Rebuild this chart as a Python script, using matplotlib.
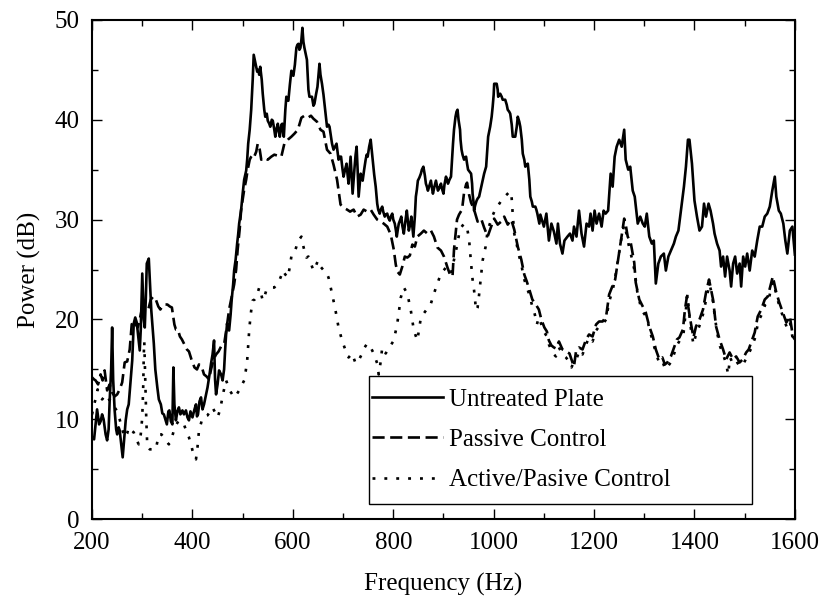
import numpy as np
import matplotlib
matplotlib.use('Agg')
import matplotlib.pyplot as plt
from matplotlib.patches import Rectangle

plt.rcParams['font.family'] = ['Liberation Serif', 'DejaVu Serif']
plt.rcParams['font.size'] = 18

# Untreated plate (solid)
freq_untreated = [
    200, 204, 207, 210, 214, 217, 220, 223, 227, 230, 233, 235, 238, 240, 242, 245, 248, 250, 253, 255,
    258, 261, 264, 267, 270, 273, 277, 280, 283, 286, 289, 292, 295, 297, 300, 303, 305, 307, 309, 313,
    316, 318, 321, 323, 326, 330, 333, 337, 340, 343, 346, 349, 352, 354, 357, 360, 362, 364, 367, 370,
    373, 376, 380, 383, 387, 390, 393, 396, 400, 404, 407, 409, 411, 414, 417, 420, 423, 427, 430, 434,
    437, 440, 443, 445, 447, 450, 453, 457, 460, 463, 465, 467, 469, 471, 473, 476, 478, 481, 483, 486,
    489, 491, 493, 497, 500, 503, 507, 509, 511, 514, 517, 520, 522, 524, 527, 529, 531, 533, 535, 538,
    540, 543, 545, 548, 550, 553, 555, 558, 560, 563, 565, 567, 570, 572, 574, 577, 579, 581, 582, 585,
    587, 589, 591, 594, 597, 599, 601, 604, 607, 609, 611, 613, 615, 617, 619, 621, 623, 626, 628, 631,
    633, 636, 638, 641, 643, 646, 649, 651, 653, 655, 658, 661, 663, 666, 668, 671, 673, 676, 678, 681,
    684, 687, 689, 691, 694, 696, 699, 701, 704, 707, 709, 711, 713, 715, 717, 719, 721, 723, 725, 727,
    729, 731, 733, 735, 737, 739, 742, 745, 747, 749, 752, 755, 757, 760, 762, 765, 768, 770, 773, 775,
    778, 780, 783, 785, 788, 790, 793, 795, 798, 800, 803, 805, 807, 809, 811, 814, 816, 818, 821, 824,
    827, 829, 831, 834, 836, 838, 840, 843, 845, 847, 849, 852, 855, 857, 860, 863, 865, 867, 869, 872,
    875, 877, 879, 882, 885, 887, 889, 892, 895, 897, 900, 902, 905, 907, 909, 912, 915, 917, 919, 921,
    924, 926, 928, 930, 933, 934, 936, 938, 941, 943, 945, 947, 949, 952, 955, 957, 958, 960, 961, 963,
    966, 968, 971, 974, 978, 981, 985, 987, 989, 991, 993, 996, 998, 1000, 1001, 1004, 1006, 1008, 1009, 1011,
    1013, 1016, 1018, 1021, 1023, 1026, 1028, 1031, 1033, 1036, 1038, 1041, 1043, 1046, 1048, 1051, 1053, 1056, 1058, 1061,
    1063, 1066, 1068, 1071, 1073, 1076, 1078, 1081, 1083, 1085, 1087, 1089, 1091, 1093, 1100, 1105, 1110, 1115, 1120, 1125,
    1128, 1132, 1137, 1141, 1147, 1152, 1157, 1160, 1165, 1170, 1175, 1180, 1185, 1190, 1193, 1197, 1201, 1205, 1210, 1215,
    1219, 1223, 1228, 1233, 1237, 1241, 1245, 1250, 1255, 1260, 1263, 1268, 1272, 1277, 1281, 1287, 1292, 1297, 1301, 1305,
    1310, 1315, 1319, 1323, 1328, 1333, 1339, 1343, 1348, 1353, 1359, 1363, 1368, 1373, 1379, 1383, 1387, 1390, 1395, 1400,
    1405, 1410, 1415, 1419, 1423, 1428, 1432, 1437, 1440, 1445, 1450, 1453, 1457, 1461, 1465, 1470, 1473, 1477, 1481, 1485,
    1490, 1493, 1497, 1501, 1505, 1510, 1515, 1520, 1525, 1530, 1535, 1540, 1545, 1550, 1555, 1560, 1563, 1568, 1572, 1577,
    1581, 1585, 1590, 1595, 1600,
]
power_untreated = [
    8.2, 8.0, 9.5, 11.0, 9.5, 9.8, 10.5, 10.0, 8.5, 7.9, 9.0, 11.8, 15, 19.2, 14, 10.9, 9.0, 8.5, 9.2, 8.9,
    7.5, 6.2, 8.0, 9.9, 11.0, 11.5, 14, 15.9, 19.6, 20.2, 19.7, 18.3, 16.9, 19, 24.6, 20, 19.2, 22, 25.6, 26.1,
    23, 20.9, 19, 17.6, 15, 13.2, 12, 11.5, 10.6, 10.5, 10, 9.5, 10.8, 10.9, 9.8, 9.5, 15.2, 11.5, 9.9, 10.8,
    11.2, 10.5, 10.9, 10.5, 10.9, 10.2, 9.9, 10.8, 10.2, 11, 11.5, 10.3, 10.5, 11.8, 12.2, 11, 11.5, 12.5, 13.2, 14.5,
    15.6, 16.5, 17.9, 14, 12.5, 13.5, 14.9, 14.5, 13.9, 15, 16.9, 18.5, 19.6, 19, 18.9, 20.5, 21.9, 23.5, 24.9, 26,
    27.6, 28.5, 29.6, 31, 32.6, 34, 34.9, 36, 37.6, 39, 41, 44, 46.5, 46, 45.3, 44.8, 45, 44.5, 45.3, 44,
    42.6, 41, 40.3, 40.6, 39.9, 39.6, 39.3, 40, 39.9, 39, 38.3, 39, 39.6, 38.8, 38.3, 39.5, 39.6, 38.5, 38.3, 41,
    42.3, 42, 41.9, 43.5, 44.9, 44.5, 44.4, 45.5, 47.2, 47.5, 47.6, 47, 47.2, 48, 49.2, 47.8, 47.2, 46.5, 46, 43,
    42.3, 42.3, 42.3, 41.4, 41.6, 42.5, 43.3, 44.5, 45.6, 44.5, 43.6, 42.5, 41.6, 40.3, 39.3, 39.5, 39.3, 38.3, 37.6, 37,
    37.3, 37.6, 36.8, 36, 36.3, 36.3, 35, 34.3, 35, 35.6, 34.5, 33.6, 35, 36.3, 34.5, 32.6, 34, 35.3, 36.5, 37.3,
    35, 32.3, 33.5, 34.6, 34.2, 33.9, 35, 36, 36.5, 36.3, 37.3, 38, 37, 35.6, 34.5, 33.3, 31.6, 31, 30.6, 31,
    31.3, 30.8, 30.3, 30.5, 30.6, 30.2, 29.9, 30.3, 30.6, 30, 29.6, 29, 28.3, 29, 29.6, 30, 30.3, 29.4, 28.6, 29.8,
    30.9, 29.9, 28.9, 29.6, 30.3, 29.3, 28.3, 30.3, 32.3, 33, 33.9, 34.2, 34.6, 35, 35.3, 34.4, 33.6, 33.3, 32.9, 33.4,
    33.9, 33.2, 32.6, 33.3, 33.9, 33.4, 32.9, 33.2, 33.6, 33.1, 32.6, 33.5, 34.3, 34, 33.6, 34, 34.3, 36, 37.6, 39,
    40.3, 40.8, 41, 40, 39, 38, 37, 36.5, 36, 36.2, 36.3, 35.6, 35, 34.8, 34.6, 33.6, 32.6, 31.7, 30.9, 31.4,
    31.9, 32.1, 32.3, 33, 33.9, 34.6, 35.3, 36.8, 38.3, 38.8, 39.3, 40.3, 41.3, 42.5, 43.6, 43.6, 43.6, 43, 42.3, 42.5,
    42.6, 42.3, 42, 42, 42, 41.5, 41, 40.8, 40.6, 39.5, 38.3, 38.3, 38.3, 39.3, 40.3, 39.8, 39.3, 38, 36.6, 36,
    35.3, 35.5, 35.6, 34, 32.3, 31.8, 31.3, 31.3, 31.3, 31, 30.6, 30.1, 29.6, 30.5, 29.3, 30.6, 27.9, 29.6, 28.8, 27.6,
    29.6, 27.6, 26.6, 27.9, 28.3, 28.6, 27.9, 29.3, 28.3, 30.9, 28.6, 27.3, 29.6, 29.3, 30.6, 28.9, 30.9, 29.6, 30.6, 29.3,
    30.9, 30.6, 30.9, 34.6, 33.3, 36.3, 37.3, 38, 37.3, 39, 36, 35, 35.3, 32.9, 32.3, 29.6, 30.3, 29.6, 29.3, 30.6,
    28.3, 27.6, 27.9, 23.6, 25.6, 26.3, 26.6, 24.9, 26.3, 26.9, 27.6, 28.3, 28.9, 30.9, 33.3, 35.3, 38, 38, 35.6, 31.9,
    30.3, 28.9, 29.3, 31.6, 30.3, 31.6, 30.9, 29.6, 28.6, 27.6, 26.9, 25.3, 26.3, 24.3, 26.3, 24.9, 23.3, 25.6, 26.3, 24.6,
    25.6, 23.3, 26.3, 25.3, 26.6, 24.9, 26.9, 26.3, 27.9, 29.3, 29.3, 30.3, 30.6, 31.3, 32.9, 34.3, 32.3, 30.9, 30.6, 29.6,
    27.9, 26.6, 28.9, 29.3, 26.5,
]

# Passive control (dashed)
freq_passive = [
    200, 204, 207, 212, 217, 221, 225, 230, 235, 240, 245, 250, 255, 260, 265, 270, 275, 279, 283, 287,
    291, 295, 299, 303, 307, 312, 317, 322, 327, 332, 336, 340, 345, 350, 355, 359, 364, 367, 371, 375,
    379, 384, 389, 393, 398, 404, 409, 413, 417, 420, 423, 428, 433, 437, 442, 447, 452, 457, 463, 469,
    473, 477, 483, 487, 490, 494, 497, 500, 503, 507, 510, 514, 517, 520, 523, 527, 530, 534, 537, 543,
    550, 557, 563, 570, 577, 583, 590, 597, 603, 610, 617, 623, 630, 636, 641, 648, 655, 661, 668, 675,
    681, 688, 695, 701, 708, 714, 721, 728, 735, 741, 748, 755, 761, 768, 775, 781, 788, 795, 801, 805,
    808, 813, 818, 823, 828, 833, 838, 843, 848, 855, 861, 868, 875, 881, 888, 895, 901, 908, 913, 918,
    921, 927, 931, 937, 941, 945, 947, 951, 955, 961, 968, 975, 981, 988, 995, 1001, 1008, 1015, 1021, 1028,
    1035, 1041, 1048, 1055, 1061, 1066, 1071, 1077, 1084, 1090, 1095, 1101, 1106, 1110, 1115, 1120, 1124, 1130, 1137, 1144,
    1151, 1157, 1160, 1164, 1170, 1177, 1184, 1190, 1197, 1204, 1210, 1217, 1224, 1230, 1237, 1242, 1247, 1253, 1260, 1263,
    1267, 1273, 1280, 1283, 1290, 1297, 1303, 1310, 1317, 1323, 1330, 1336, 1341, 1346, 1353, 1360, 1365, 1370, 1377, 1381,
    1385, 1387, 1390, 1394, 1398, 1403, 1410, 1417, 1423, 1429, 1433, 1437, 1443, 1450, 1457, 1463, 1470, 1477, 1483, 1490,
    1496, 1503, 1508, 1513, 1520, 1526, 1533, 1540, 1546, 1553, 1556, 1563, 1569, 1576, 1583, 1590, 1596, 1600,
]
power_passive = [
    14.2, 14.0, 13.9, 13.5, 14.5, 13.9, 14.9, 12.9, 13.5, 12.7, 12.3, 12.5, 13, 13.7, 15.7, 15.8, 17, 19.5, 20, 19.5,
    19.2, 20, 21, 20.8, 21, 21, 22, 22.3, 22, 21.3, 21, 21.3, 21.5, 21.5, 21.3, 21.2, 19.5, 19, 19, 18.3,
    18, 17.5, 17, 16.8, 16, 15.2, 15, 15.5, 15.3, 15, 14.5, 14.3, 14, 15, 16, 16.5, 16.8, 17.3, 17.5, 19.5,
    21, 22, 23.5, 25, 27, 29, 31, 32, 33, 34, 35, 36, 36.3, 36.5, 36.3, 36.8, 37.6, 37, 36, 36.2,
    36, 36.3, 36.5, 36.4, 36.3, 37.6, 38, 38.3, 38.6, 39, 40.2, 40.4, 40.2, 40.4, 40.1, 39.8, 39, 38.8, 37, 36.6,
    35.5, 34, 31.5, 31.2, 31, 30.8, 31, 30.3, 30.5, 31, 30.8, 31, 30.5, 30, 29.8, 29.6, 29.3, 28.5, 27, 25.5,
    24.8, 24.5, 25.3, 26.3, 26.2, 26.4, 27.5, 27.3, 28.3, 28.6, 28.9, 28.6, 28.9, 28.3, 27.2, 26.9, 26.3, 25.2, 24.5, 24.3,
    27, 30, 30.5, 31, 32.7, 33.5, 33.7, 32.5, 31.7, 31, 29.8, 30.1, 29.2, 28.3, 29.3, 30.1, 29.5, 29.8, 30.3, 29.5,
    30, 29, 27.3, 26, 24.5, 23.8, 23, 22, 21.5, 21, 20, 19.2, 18.8, 17.9, 17.4, 17.2, 17.1, 17.8, 17, 16.8,
    16.6, 15.7, 15.3, 16.8, 17.2, 17, 18, 18.5, 18.3, 19.5, 19.8, 19.8, 20.3, 22.5, 23.4, 24, 25.7, 27.7, 30.1, 29.5,
    28.3, 27.7, 25.7, 23.7, 22, 21.3, 20.7, 19.3, 18.3, 17, 16, 16.2, 15.5, 15.7, 16.3, 17.3, 18, 18.2, 19, 21,
    22.3, 21.5, 20.5, 19.3, 18.2, 19.3, 20, 21, 22.7, 24, 23, 22, 19.3, 18, 17, 16, 16.7, 16, 16.3, 15.7,
    16, 16.7, 17, 17.7, 18.7, 20.3, 21, 22, 22.3, 23.7, 24.3, 22.7, 21.7, 20.7, 19.7, 20.3, 18.3, 18,
]

# Active/passive control (dotted)
freq_active = [
    200, 204, 207, 211, 215, 220, 225, 230, 235, 240, 245, 250, 255, 260, 265, 270, 273, 278, 283, 288,
    293, 297, 300, 302, 303, 304, 306, 308, 310, 315, 320, 327, 333, 338, 343, 348, 353, 358, 363, 368,
    373, 378, 383, 388, 393, 397, 400, 404, 407, 410, 413, 417, 420, 425, 430, 435, 440, 445, 450, 454,
    457, 462, 467, 470, 473, 478, 483, 488, 493, 498, 503, 506, 509, 511, 513, 515, 517, 520, 524, 527,
    530, 533, 537, 540, 544, 547, 550, 553, 558, 563, 568, 573, 577, 580, 585, 590, 594, 597, 600, 603,
    607, 610, 614, 617, 620, 623, 627, 631, 636, 641, 646, 650, 655, 660, 665, 671, 678, 685, 691, 698,
    705, 711, 718, 725, 731, 738, 743, 748, 755, 761, 768, 771, 775, 778, 785, 791, 796, 801, 808, 815,
    821, 828, 835, 841, 848, 855, 865, 875, 885, 895, 905, 915, 925, 931, 935, 941, 948, 951, 955, 958,
    961, 965, 968, 971, 975, 978, 984, 988, 997, 1003, 1010, 1018, 1024, 1030, 1035, 1038, 1041, 1046, 1050, 1055,
    1061, 1066, 1071, 1077, 1082, 1086, 1090, 1095, 1101, 1106, 1110, 1115, 1120, 1124, 1130, 1137, 1144, 1150, 1155, 1160,
    1166, 1171, 1177, 1184, 1190, 1197, 1204, 1210, 1217, 1224, 1230, 1237, 1243, 1249, 1255, 1260, 1265, 1270, 1275, 1281,
    1286, 1292, 1298, 1305, 1311, 1318, 1324, 1331, 1337, 1342, 1347, 1354, 1361, 1366, 1372, 1378, 1382, 1386, 1389, 1393,
    1398, 1403, 1411, 1418, 1424, 1430, 1435, 1440, 1445, 1451, 1457, 1463, 1467, 1471, 1477, 1484, 1490, 1497, 1504, 1510,
    1514, 1521, 1527, 1534, 1541, 1547, 1553, 1557, 1564, 1570, 1577, 1584, 1590, 1596, 1600,
]
power_active = [
    10.5, 11.5, 12, 13, 12.5, 12, 12.3, 11.8, 12, 11.5, 11.2, 10.8, 10, 9, 8.2, 8.6, 9.2, 8.9, 8.7, 8,
    7.5, 8.5, 10.2, 13.5, 16.5, 17.8, 14, 10, 7.3, 7, 7, 7, 8.5, 8.5, 8.2, 7.8, 7.5, 8, 8.9, 9.5,
    9.9, 9.7, 9.5, 8.8, 8.2, 7.5, 6.9, 6.3, 6, 7.2, 8.9, 9.6, 10.2, 10.3, 10.4, 10.8, 11.2, 10.7, 10.2, 10.8,
    11.5, 12.8, 13.9, 13.5, 13, 12.6, 12.2, 12.5, 12.9, 13.4, 13.9, 14.8, 15.9, 17.4, 18.9, 20, 20.9, 21.9, 22, 22.2,
    22.7, 23.2, 22.5, 21.9, 22.4, 22.9, 23, 23.2, 23.2, 23.2, 23.5, 23.9, 24.4, 24.9, 24.5, 24.2, 25.3, 26.3, 26.4, 26.6,
    27.3, 27.9, 28.1, 28.3, 27.5, 26.9, 26.2, 26.3, 25.6, 24.9, 25.4, 25.9, 25.3, 25, 24.9, 24.2, 22.6, 20.9, 19.2, 17.9,
    16.9, 16.2, 16.6, 15.6, 15.9, 16.6, 17.2, 17.6, 17.2, 16.6, 15.6, 14.5, 15.8, 17.2, 16.6, 17.2, 17.5, 17.9, 19.6, 22.2,
    23.2, 22.6, 20.9, 18.9, 17.9, 20.2, 20.9, 21.6, 23.2, 24.6, 25.2, 24.6, 26.9, 28.5, 29.2, 29.6, 28.9, 28, 25.6, 24,
    22.9, 20.9, 21.2, 22.5, 24.5, 25.9, 27.3, 28.9, 30.3, 31, 31.5, 32.1, 32.4, 32.7, 32.8, 30.5, 28.6, 27.5, 26.5, 25.5,
    24, 23.2, 22.5, 21.3, 20.5, 19.5, 20.2, 19.5, 18.7, 18.3, 17.5, 16.9, 16.5, 16.3, 17.2, 16.5, 16.2, 15.8, 15.2, 15.8,
    16.2, 16.9, 16.5, 17.5, 18.2, 17.8, 18.9, 19.3, 19.5, 20, 21.8, 22.9, 24.5, 26.4, 28.3, 29.5, 28.5, 27.2, 26.2, 24.8,
    22.8, 21.5, 20.7, 20.2, 18.9, 17.6, 16.5, 15.5, 15.7, 15, 15.3, 15.8, 16.8, 17.5, 18, 18.5, 20.5, 22.5, 20.8, 19,
    17.5, 18.5, 19.5, 20.7, 22.2, 23.5, 22.5, 20.5, 18.7, 17.3, 16.5, 15.6, 14.5, 16.2, 15.5, 15.8, 15.3, 15.5, 16.2, 16.8,
    17.2, 18.2, 19.8, 20.5, 21.5, 21.8, 23.2, 23.8, 22.3, 21.2, 20.2, 19.2, 19.8, 18, 17.8,
]

fig = plt.figure(figsize=(8.22, 6.01), dpi=100)
ax = fig.add_axes([0.112, 0.136, 0.855, 0.831])

ax.plot(freq_untreated, power_untreated, color='black', lw=1.9, label='Untreated Plate')
ax.plot(freq_passive, power_passive, color='black', lw=1.9, dashes=(4.6, 2.1), label='Passive Control')
ax.plot(freq_active, power_active, color='black', lw=1.9, dashes=(1.1, 3.4), label='Active/Pasive Control')

ax.set_xlim(200, 1600)
ax.set_ylim(0, 50)
ax.set_xticks(np.arange(200, 1601, 200))
ax.set_xticks(np.arange(300, 1600, 200), minor=True)
ax.set_yticks(np.arange(0, 51, 10))
ax.set_yticks(np.arange(5, 50, 10), minor=True)
ax.tick_params(which='both', direction='in', top=True, right=True, width=1)
ax.tick_params(which='major', length=7, pad=9)
ax.tick_params(which='minor', length=4.5)
for s in ax.spines.values():
    s.set_linewidth(1.5)

ax.set_xlabel('Frequency (Hz)', labelpad=14)
ax.set_ylabel('Power (dB)', labelpad=10)

# legend box drawn separately so the padding matches the original
ax.add_patch(Rectangle((0.394, 0.030), 0.545, 0.257, transform=ax.transAxes,
                       facecolor='white', edgecolor='black', lw=1.0, zorder=4))
leg = ax.legend(loc='upper left', bbox_to_anchor=(0.398, 0.262), frameon=False,
                borderaxespad=0, borderpad=0, handlelength=2.85, handletextpad=0.24,
                labelspacing=0.71)
leg.set_zorder(5)

fig.savefig('out.png', dpi=100)
